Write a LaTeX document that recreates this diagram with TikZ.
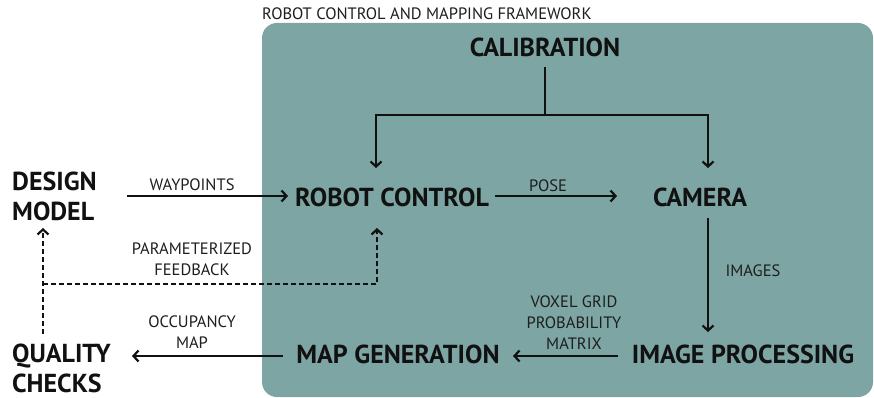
\documentclass[tikz,border=0pt]{standalone}
\usepackage{fontspec}
\setmainfont{PT Sans}
\usetikzlibrary{arrows.meta}
\definecolor{frame}{RGB}{124,165,163}
\definecolor{ink}{RGB}{17,17,17}
\definecolor{lab}{RGB}{30,30,30}
\tikzset{
  head/.style={font=\bfseries\fontsize{26}{30}\selectfont, text=ink, inner sep=0pt},
  lbl/.style={font=\fontsize{16.5}{21}\selectfont, text=lab, inner sep=0pt, align=center},
  conn/.style={draw=ink, line width=1.1pt, -{Straight Barb[length=5pt,width=11pt,line width=2.2pt]}},
  plain/.style={draw=ink, line width=1.1pt},
  dconn/.style={draw=ink, line width=1.1pt, dash pattern=on 5pt off 3pt, -{Straight Barb[length=5pt,width=11pt,line width=2.2pt]}},
}
\begin{document}
\begin{tikzpicture}[x=1pt,y=-1pt]
\useasboundingbox (0,0) rectangle (874,398);
\fill[frame, rounded corners=15pt] (262,23) rectangle (873,397);
\node[lbl, anchor=base west] (title) at (262,20) {ROBOT CONTROL AND MAPPING FRAMEWORK};
% heads
\node[head, anchor=base] (cal) at (545,57) {CALIBRATION};
\node[head, anchor=base] (rc) at (392,206) {ROBOT CONTROL};
\node[head, anchor=base] (cam) at (700,206) {CAMERA};
\node[head, anchor=base] (ip) at (743,363) {IMAGE PROCESSING};
\node[head, anchor=base] (mg) at (398,363) {MAP GENERATION};
\node[head, anchor=base west, align=left] (dm) at (12,220) {DESIGN\\MODEL};
\node[head, anchor=base west, align=left] (qc) at (12,392) {QUALITY\\CHECKS};
% coordinates
\coordinate (calb) at (545,67);
\coordinate (split) at (545,115);
\coordinate (rcTop) at (376,168);
\coordinate (camTop) at (708,168);
\coordinate (wpS) at (127,196);
\coordinate (wpE) at (288,196);
\coordinate (poS) at (495,196);
\coordinate (poE) at (617,196);
\coordinate (camB) at (708,218);
\coordinate (ipT) at (708,332);
\coordinate (ipL) at (618,356);
\coordinate (mgR) at (513,356);
\coordinate (mgL) at (283,356);
\coordinate (qcR) at (132,356);
\coordinate (fbS) at (43,334);
\coordinate (dmB) at (43,228);
\coordinate (rcB) at (377,228);
\coordinate (fbC) at (43,284);
% connectors
\draw[plain] (calb) -- (split);
\draw[conn] (split) -| (rcTop);
\draw[conn] (split) -| (camTop);
\draw[conn] (wpS) -- (wpE);
\draw[conn] (poS) -- (poE);
\draw[conn] (camB) -- (ipT);
\draw[conn] (ipL) -- (mgR);
\draw[conn] (mgL) -- (qcR);
\draw[dconn] (fbS) -- (dmB);
\draw[dconn] (fbC) -| (rcB);
% labels
\node[lbl, anchor=base] (lwp) at (192,190) {WAYPOINTS};
\node[lbl, anchor=base] (lpf) at (192,275) {PARAMETERIZED\\FEEDBACK};
\node[lbl, anchor=base] (loc) at (192,348) {OCCUPANCY\\MAP};
\node[lbl, anchor=base] (lpo) at (548,191) {POSE};
\node[lbl, anchor=base] (lim) at (753,276) {IMAGES};
\node[lbl, anchor=base] (lvx) at (574,349) {VOXEL GRID\\PROBABILITY\\MATRIX};
\end{tikzpicture}
\end{document}
